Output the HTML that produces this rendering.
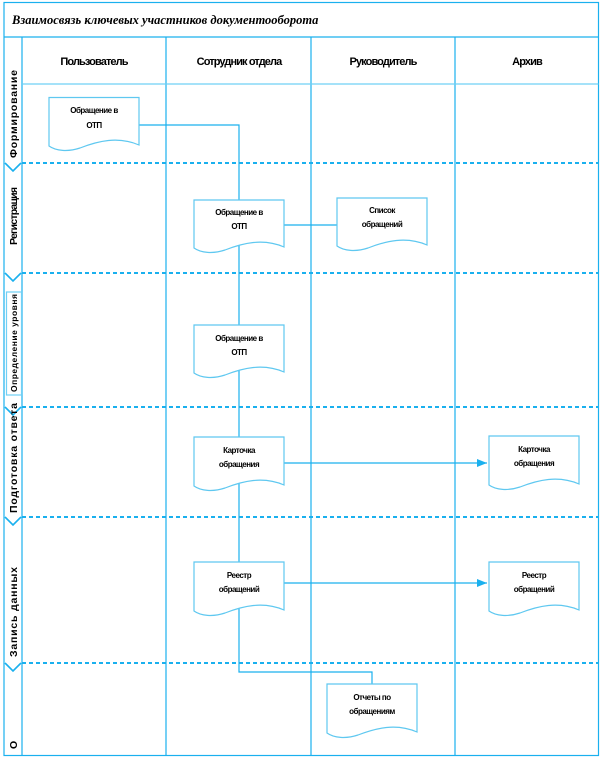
<!DOCTYPE html>
<html><head><meta charset="utf-8"><style>
html,body{margin:0;padding:0;background:#fff;}
svg{display:block;}
.t{font-family:"Liberation Sans",sans-serif;font-weight:bold;font-size:8px;fill:#000;letter-spacing:-0.5px;}
.h{font-family:"Liberation Sans",sans-serif;font-weight:bold;font-size:11px;fill:#000;letter-spacing:-0.9px;}
.l{font-family:"Liberation Sans",sans-serif;font-weight:bold;font-size:10.5px;fill:#000;}
</style></head><body>
<svg width="603" height="758" viewBox="0 0 603 758" xmlns="http://www.w3.org/2000/svg">
<defs>
<marker id="a" markerWidth="10" markerHeight="8" refX="10" refY="4" orient="auto" markerUnits="userSpaceOnUse">
<path d="M0,0 L10,4 L0,8 Z" fill="#1ab0ee"/></marker>
</defs>
<g fill="none" stroke="#1ab0ee" stroke-width="1.2">
<rect x="4" y="2.5" width="594.5" height="753"/>
<line x1="4" y1="37" x2="598.5" y2="37"/>
<line x1="22" y1="37" x2="22" y2="755.5"/>
<line x1="166" y1="37" x2="166" y2="755.5"/>
<line x1="311" y1="37" x2="311" y2="755.5"/>
<line x1="455" y1="37" x2="455" y2="755.5"/>
<line x1="22" y1="84" x2="598.5" y2="84" stroke="#6fd0f5"/>
<g stroke-dasharray="4,3" stroke-width="2">
<line x1="22" y1="163" x2="598" y2="163"/>
<line x1="22" y1="273" x2="598" y2="273"/>
<line x1="22" y1="407" x2="598" y2="407"/>
<line x1="22" y1="517" x2="598" y2="517"/>
<line x1="22" y1="663" x2="598" y2="663"/>
</g>
<g stroke-width="1.6">
<polyline points="5,163 13,171 21,163"/>
<polyline points="5,273 13,281 21,273"/>
<polyline points="5,407 13,415 21,407"/>
<polyline points="5,517 13,525 21,517"/>
<polyline points="5,663 13,671 21,663"/>
</g>
<rect x="6.5" y="292" width="15" height="103" stroke="#6fd0f5"/>
<polyline points="139,125 239,125 239,672 372,672 372,684"/>
<line x1="284" y1="225" x2="337" y2="225"/>
<line x1="284" y1="463" x2="487" y2="463" marker-end="url(#a)"/>
<line x1="284" y1="583" x2="487" y2="583" marker-end="url(#a)"/>
</g>
<g fill="#fff" stroke="#5fc8f0" stroke-width="1.2">
<path d="M49,97.5 H139 V145 C118,136 98,141 80,148 C68,152 56,151 49,146 Z"/>
<path d="M194,200 H284 V247 C263,238 243,243 225,250 C213,254 201,253 194,248 Z"/>
<path d="M337,198 H427 V245 C406,236 386,241 368,248 C356,252 344,251 337,246 Z"/>
<path d="M194,325 H284 V372 C263,363 243,368 225,375 C213,379 201,378 194,373 Z"/>
<path d="M194,437 H284 V485 C263,476 243,481 225,488 C213,492 201,491 194,486 Z"/>
<path d="M489,436 H579 V484 C558,475 538,480 520,487 C508,491 496,490 489,485 Z"/>
<path d="M194,562 H284 V610 C263,601 243,606 225,613 C213,617 201,616 194,611 Z"/>
<path d="M489,562 H579 V610 C558,601 538,606 520,613 C508,617 496,616 489,611 Z"/>
<path d="M327,684 H417 V732 C396,723 376,728 358,735 C346,739 334,738 327,733 Z"/>
</g>
<text x="12" y="24" font-family="Liberation Serif,serif" font-style="italic" font-weight="bold" font-size="12.5" fill="#000">Взаимосвязь ключевых участников документооборота</text>
<g class="h" text-anchor="middle">
<text x="94" y="65">Пользователь</text>
<text x="239" y="65">Сотрудник отдела</text>
<text x="383" y="65">Руководитель</text>
<text x="527" y="65">Архив</text>
</g>
<g class="t" text-anchor="middle">
<text x="94" y="113">Обращение в</text><text x="94" y="128">ОТП</text>
<text x="239" y="215">Обращение в</text><text x="239" y="229">ОТП</text>
<text x="382" y="213">Список</text><text x="382" y="227">обращений</text>
<text x="239" y="341">Обращение в</text><text x="239" y="355">ОТП</text>
<text x="239" y="453">Карточка</text><text x="239" y="467">обращения</text>
<text x="534" y="452">Карточка</text><text x="534" y="466">обращения</text>
<text x="239" y="578">Реестр</text><text x="239" y="592">обращений</text>
<text x="534" y="578">Реестр</text><text x="534" y="592">обращений</text>
<text x="372" y="700">Отчеты по</text><text x="372" y="714">обращениям</text>
</g>
<g class="l">
<text transform="translate(17,158) rotate(-90)" textLength="88" lengthAdjust="spacing">Формирование</text>
<text transform="translate(17,245) rotate(-90)" textLength="58" lengthAdjust="spacing">Регистрация</text>
<text transform="translate(17,392) rotate(-90)" font-size="8.5" textLength="98" lengthAdjust="spacing">Определение уровня</text>
<text transform="translate(17,513) rotate(-90)" textLength="110" lengthAdjust="spacing">Подготовка ответа</text>
<text transform="translate(17,657) rotate(-90)" textLength="90" lengthAdjust="spacing">Запись данных</text>
<text transform="translate(17,749) rotate(-90)">О</text>
</g>
</svg>
</body></html>
